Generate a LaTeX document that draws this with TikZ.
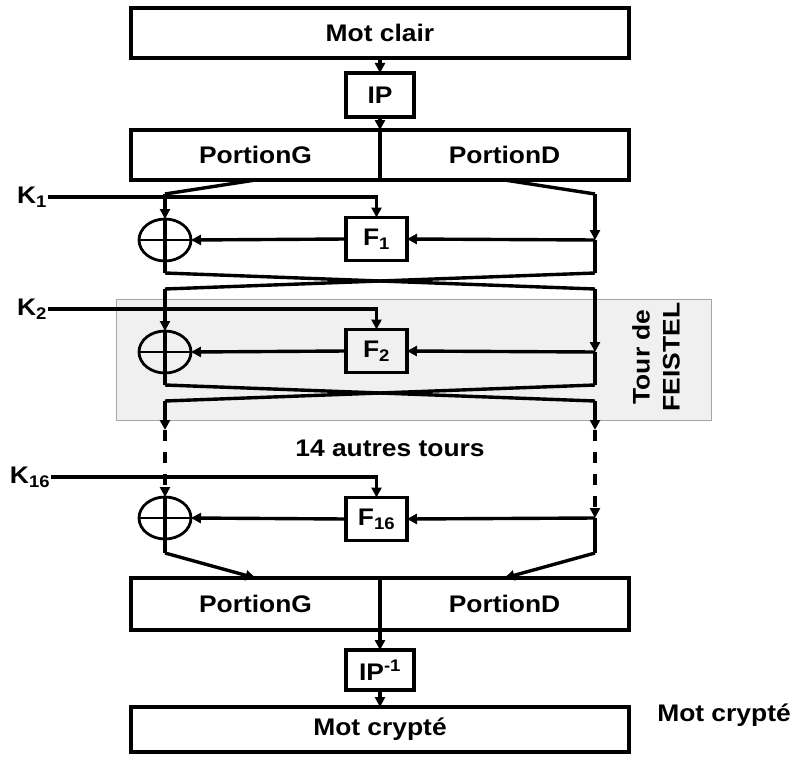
\documentclass[tikz,border=0pt]{standalone}
\usepackage{fontspec}
\newfontfamily\lab[FakeStretch=1.1]{Liberation Sans}
\usetikzlibrary{arrows.meta,calc,shapes.geometric}

\begin{document}
\begin{tikzpicture}[x=1pt,y=-1pt,
  lbl/.style={font=\lab\bfseries\fontsize{24}{30}\selectfont},
  box/.style={draw, line width=3.4pt, inner sep=0pt, outer sep=0pt, lbl},
  fbox/.style={box, minimum width=61pt, minimum height=43pt},
  xor/.style={draw, ellipse, line width=2.8pt, minimum width=52pt, minimum height=42pt, inner sep=0pt, outer sep=0pt},
  klbl/.style={lbl, inner sep=1pt},
  wire/.style={line width=3.4pt},
  arr/.style={wire, -{Triangle[length=10pt,width=10pt]}},
  dwire/.style={arr, dash pattern=on 11pt off 11pt},
  tour/.style={draw=black!35, fill=black!6, line width=1pt, inner sep=0pt, outer sep=0pt}
]
\fill[white] (0,0) rectangle (794,757);
\useasboundingbox (0,0) rectangle (794,757);

% shaded Feistel round
\node[tour, minimum width=595pt, minimum height=121pt] (band) at (413.5,359.5) {};
\node[lbl, rotate=90, align=center] (tourlbl) at (656,357) {Tour de\\FEISTEL};

% input and initial permutation
\node[box, minimum width=498pt, minimum height=50pt] (clair) at (380,33) {Mot clair};
\node[box, minimum width=68pt, minimum height=44pt] (ip) at (380,95) {IP};
\node[box, minimum width=249pt, minimum height=50pt] (g1) at (255.5,155) {PortionG};
\node[box, minimum width=249pt, minimum height=50pt] (d1) at (504.5,155) {PortionD};
\draw[arr] (clair.south) -- (ip.north);
\draw[arr] (ip.south) -- (g1.north east);

% round 1
\node[xor] (x1) at (165,240) {};
\node[fbox] (f1) at (376.5,239) {F\textsubscript{1}};
\node[klbl] (k1) at (32,197) {K\textsubscript{1}};
\coordinate (l1) at (165,194);
\coordinate (r1) at (595,194);
\coordinate (rf1) at (595,240);
\coordinate (lb1) at (165,273);
\coordinate (rb1) at (595,273);
\draw[wire] (g1.south) -- (l1);
\draw[arr] (l1) -- (x1.north);
\draw[wire] (d1.south) -- (r1);
\draw[arr] (r1) -- (rf1);
\draw[arr] (rf1) -- (f1.east);
\draw[arr] (f1.west) -- (x1.east);
\draw[arr] (k1.east) -| (f1.north);
\draw[wire] (x1.north) -- (x1.south);
\draw[line width=2.8pt] (x1.west) -- (x1.east);
\draw[wire] (x1.south) -- (lb1);
\draw[wire] (rf1) -- (rb1);

% swap 1
\coordinate (l2) at (165,289);
\coordinate (r2) at (595,289);
\draw[wire] (lb1) -- (r2);
\draw[wire] (rb1) -- (l2);

% round 2
\node[xor] (x2) at (165,352) {};
\node[fbox] (f2) at (376.5,351) {F\textsubscript{2}};
\node[klbl] (k2) at (32,309) {K\textsubscript{2}};
\coordinate (rf2) at (595,352);
\coordinate (lb2) at (165,385);
\coordinate (rb2) at (595,385);
\draw[arr] (l2) -- (x2.north);
\draw[arr] (r2) -- (rf2);
\draw[arr] (rf2) -- (f2.east);
\draw[arr] (f2.west) -- (x2.east);
\draw[arr] (k2.east) -| (f2.north);
\draw[wire] (x2.north) -- (x2.south);
\draw[line width=2.8pt] (x2.west) -- (x2.east);
\draw[wire] (x2.south) -- (lb2);
\draw[wire] (rf2) -- (rb2);

% swap 2
\coordinate (l3) at (165,401);
\coordinate (r3) at (595,401);
\draw[wire] (lb2) -- (r3);
\draw[wire] (rb2) -- (l3);
\coordinate (lm) at (165,430);
\coordinate (rm) at (595,430);
\draw[arr] (l3) -- (lm);
\draw[arr] (r3) -- (rm);

\node[lbl] (autres) at (390,448) {14 autres tours};

% round 16
\node[xor] (x16) at (165,518) {};
\node[fbox] (f16) at (376.5,519) {F\textsubscript{16}};
\node[klbl] (k16) at (30,477) {K\textsubscript{16}};
\coordinate (rf16) at (595,518);
\coordinate (lb16) at (165,553);
\coordinate (rb16) at (595,553);
\draw[dwire] (lm) -- (x16.north);
\draw[dwire] (rm) -- (rf16);
\draw[arr] (rf16) -- (f16.east);
\draw[arr] (f16.west) -- (x16.east);
\draw[arr] (k16.east) -| (f16.north);
\draw[wire] (x16.north) -- (x16.south);
\draw[line width=2.8pt] (x16.west) -- (x16.east);
\draw[wire] (x16.south) -- (lb16);
\draw[wire] (rf16) -- (rb16);

% output halves, final permutation and result
\node[box, minimum width=249pt, minimum height=52pt] (g2) at (255.5,604) {PortionG};
\node[box, minimum width=249pt, minimum height=52pt] (d2) at (504.5,604) {PortionD};
\draw[arr] (lb16) -- (g2.north);
\draw[arr] (rb16) -- (d2.north);
\node[box, minimum width=68pt, minimum height=40pt] (ip2) at (380,670) {IP\textsuperscript{-1}};
\draw[arr] (g2.south east) -- (ip2.north);
\node[box, minimum width=498pt, minimum height=45pt] (crypt) at (380,729.5) {Mot crypté};
\draw[arr] (ip2.south) -- (crypt.north);
\node[lbl] (cryptlbl) at (724,715) {Mot crypté};
\end{tikzpicture}
\end{document}
